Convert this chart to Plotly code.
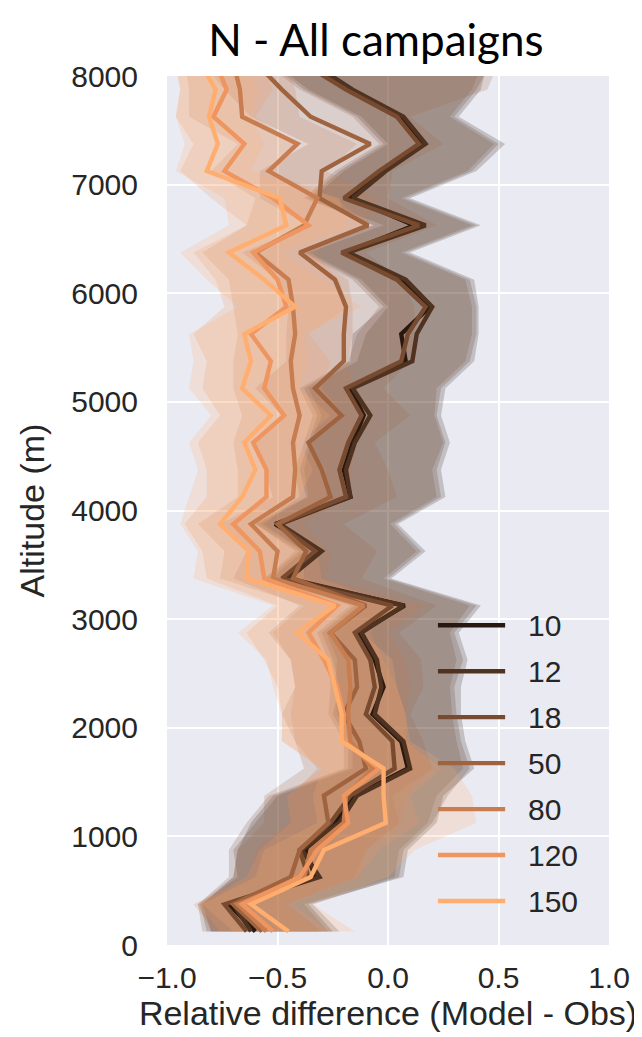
import plotly.graph_objects as go

# ---------------- data ----------------
altitudes = [125 + 250 * k for k in range(33)]  # bin centres (m)

series_names = ["10", "12", "18", "50", "80", "120", "150"]

s10 = [-0.60, -0.72, -0.33, -0.37, -0.24, -0.15, 0.09, 0.06, -0.07, -0.02, -0.06, -0.13, 0.075, -0.47, -0.31, -0.51,
       -0.17, -0.20, -0.16, -0.11, -0.17, 0.08, 0.06, 0.19, 0.06, -0.19, 0.12, -0.17, -0.02, 0.16, 0.06, -0.17, -0.37]
s10_lo = [-0.80, -0.84, -0.70, -0.68, -0.62, -0.52, -0.18, -0.18, -0.25, -0.22, -0.25, -0.30, -0.15, -0.55, -0.40, -0.60,
          -0.37, -0.40, -0.36, -0.32, -0.38, -0.17, -0.16, -0.02, -0.14, -0.38, -0.07, -0.36, -0.22, -0.02, -0.14, -0.38, -0.54]
s10_hi = [-0.25, -0.36, 0.07, 0.09, 0.22, 0.25, 0.39, 0.35, 0.33, 0.33, 0.36, 0.32, 0.42, 0.015, 0.17, 0.045,
          0.26, 0.24, 0.28, 0.24, 0.26, 0.39, 0.41, 0.41, 0.39, 0.10, 0.42, 0.10, 0.40, 0.53, 0.32, 0.42, 0.45]

s12 = [-0.62, -0.70, -0.31, -0.39, -0.22, -0.14, 0.10, 0.07, -0.06, -0.03, -0.05, -0.12, 0.07, -0.45, -0.30, -0.49,
       -0.17, -0.19, -0.15, -0.08, -0.16, 0.11, 0.13, 0.20, 0.08, -0.18, 0.17, -0.16, -0.01, 0.17, 0.07, -0.16, -0.35]
s12_lo = [-0.82, -0.85, -0.68, -0.70, -0.60, -0.50, -0.16, -0.16, -0.23, -0.24, -0.23, -0.28, -0.13, -0.53, -0.38, -0.58,
          -0.36, -0.38, -0.35, -0.30, -0.36, -0.14, -0.10, 0.00, -0.12, -0.36, -0.02, -0.34, -0.20, 0.00, -0.12, -0.36, -0.52]
s12_hi = [-0.22, -0.34, 0.05, 0.07, 0.20, 0.27, 0.37, 0.33, 0.31, 0.30, 0.34, 0.30, 0.40, 0.00, 0.15, 0.03,
          0.24, 0.22, 0.26, 0.22, 0.24, 0.37, 0.40, 0.40, 0.37, 0.08, 0.40, 0.08, 0.38, 0.50, 0.30, 0.40, 0.47]

s18 = [-0.64, -0.74, -0.36, -0.40, -0.26, -0.17, 0.03, 0.02, -0.10, -0.06, -0.08, -0.15, 0.02, -0.48, -0.33, -0.50,
       -0.19, -0.22, -0.18, -0.12, -0.19, 0.06, 0.09, 0.17, 0.04, -0.21, 0.14, -0.20, -0.04, 0.14, 0.04, -0.19, -0.39]
s18_lo = [-0.84, -0.86, -0.72, -0.72, -0.64, -0.54, -0.20, -0.20, -0.27, -0.26, -0.27, -0.32, -0.17, -0.56, -0.42, -0.60,
          -0.40, -0.42, -0.38, -0.34, -0.40, -0.18, -0.14, -0.04, -0.16, -0.40, -0.06, -0.38, -0.24, -0.04, -0.16, -0.40, -0.56]
s18_hi = [-0.27, -0.38, 0.03, 0.05, 0.18, 0.22, 0.34, 0.31, 0.29, 0.28, 0.31, 0.28, 0.37, -0.02, 0.13, 0.01,
          0.22, 0.20, 0.25, 0.21, 0.22, 0.35, 0.38, 0.38, 0.35, 0.06, 0.38, 0.06, 0.36, 0.48, 0.28, 0.38, 0.43]

s50 = [-0.57, -0.70, -0.44, -0.40, -0.27, -0.29, -0.10, -0.13, -0.20, -0.14, -0.15, -0.26, -0.10, -0.43, -0.37, -0.50,
       -0.26, -0.30, -0.36, -0.21, -0.33, -0.20, -0.20, -0.19, -0.24, -0.40, -0.09, -0.31, -0.30, -0.08, -0.35, -0.48, -0.60]
s50_lo = [-0.80, -0.86, -0.70, -0.68, -0.56, -0.56, -0.38, -0.42, -0.48, -0.42, -0.44, -0.54, -0.40, -0.70, -0.64, -0.76,
          -0.52, -0.56, -0.62, -0.48, -0.60, -0.46, -0.46, -0.45, -0.50, -0.66, -0.36, -0.58, -0.58, -0.36, -0.62, -0.74, -0.84]
s50_hi = [-0.30, -0.45, -0.15, -0.10, 0.05, 0.02, 0.20, 0.16, 0.10, 0.16, 0.15, 0.05, 0.22, -0.12, -0.05, -0.20,
          0.04, 0.00, -0.06, 0.10, -0.02, 0.10, 0.12, 0.12, 0.06, -0.10, 0.22, 0.00, 0.02, 0.25, 0.10, 0.45, 0.50]

s80 = [-0.55, -0.68, -0.38, -0.35, -0.20, -0.19, -0.07, -0.17, -0.18, -0.17, -0.18, -0.26, -0.11, -0.52, -0.50, -0.62,
       -0.43, -0.42, -0.43, -0.40, -0.43, -0.44, -0.42, -0.43, -0.45, -0.60, -0.38, -0.32, -0.54, -0.41, -0.66, -0.67, -0.70]
s80_lo = [-0.78, -0.88, -0.62, -0.60, -0.45, -0.44, -0.32, -0.42, -0.44, -0.42, -0.44, -0.52, -0.38, -0.76, -0.74, -0.86,
          -0.68, -0.68, -0.70, -0.66, -0.70, -0.70, -0.68, -0.70, -0.72, -0.84, -0.64, -0.60, -0.80, -0.68, -0.90, -0.90, -0.92]
s80_hi = [-0.32, -0.48, -0.12, -0.10, 0.06, 0.08, 0.20, 0.10, 0.08, 0.10, 0.08, 0.00, 0.16, -0.28, -0.26, -0.38,
          -0.18, -0.16, -0.16, -0.14, -0.16, -0.18, -0.16, -0.16, -0.18, -0.36, -0.10, -0.04, -0.28, -0.14, -0.40, -0.42, -0.46]

s120 = [-0.52, -0.66, -0.40, -0.32, -0.18, -0.20, -0.04, -0.20, -0.20, -0.23, -0.29, -0.36, -0.23, -0.56, -0.58, -0.70,
        -0.55, -0.55, -0.61, -0.47, -0.56, -0.53, -0.62, -0.46, -0.50, -0.61, -0.36, -0.52, -0.74, -0.65, -0.79, -0.73, -0.78]
s120_lo = [-0.76, -0.86, -0.64, -0.58, -0.44, -0.46, -0.30, -0.48, -0.48, -0.50, -0.56, -0.64, -0.50, -0.82, -0.84, -0.92,
           -0.82, -0.82, -0.86, -0.76, -0.84, -0.82, -0.88, -0.74, -0.78, -0.88, -0.64, -0.80, -0.94, -0.88, -0.96, -0.94, -0.96]
s120_hi = [-0.26, -0.44, -0.14, -0.04, 0.14, 0.10, 0.24, 0.08, 0.08, 0.04, -0.02, -0.08, 0.04, -0.30, -0.32, -0.48,
           -0.28, -0.28, -0.36, -0.20, -0.30, -0.26, -0.36, -0.18, -0.22, -0.34, -0.08, -0.24, -0.54, -0.42, -0.60, -0.52, -0.58]

s150 = [-0.45, -0.62, -0.35, -0.29, -0.01, -0.02, -0.02, -0.21, -0.21, -0.24, -0.27, -0.41, -0.24, -0.64, -0.63, -0.76,
        -0.66, -0.60, -0.65, -0.53, -0.66, -0.62, -0.65, -0.42, -0.56, -0.72, -0.46, -0.49, -0.82, -0.77, -0.81, -0.78, -0.85]
s150_lo = [-0.70, -0.84, -0.60, -0.56, -0.32, -0.34, -0.30, -0.48, -0.48, -0.52, -0.55, -0.68, -0.52, -0.88, -0.86, -0.94,
           -0.90, -0.86, -0.90, -0.80, -0.90, -0.88, -0.90, -0.68, -0.82, -0.94, -0.72, -0.74, -0.96, -0.92, -0.96, -0.94, -0.97]
s150_hi = [-0.15, -0.34, 0.00, 0.12, 0.40, 0.38, 0.30, 0.10, 0.08, 0.04, 0.02, -0.12, 0.06, -0.38, -0.38, -0.56,
           -0.40, -0.34, -0.40, -0.26, -0.40, -0.36, -0.38, -0.12, -0.30, -0.48, -0.18, -0.22, -0.62, -0.56, -0.62, -0.58, -0.66]

means = [s10, s12, s18, s50, s80, s120, s150]
lows = [s10_lo, s12_lo, s18_lo, s50_lo, s80_lo, s120_lo, s150_lo]
highs = [s10_hi, s12_hi, s18_hi, s50_hi, s80_hi, s120_hi, s150_hi]

x_ticks = [-1.0, -0.5, 0.0, 0.5, 1.0]
x_ticklabels = ["\u22121.0", "\u22120.5", "0.0", "0.5", "1.0"]
y_ticks = [0, 1000, 2000, 3000, 4000, 5000, 6000, 7000, 8000]

# ---------------- style ----------------
colors_rgb = [(40, 25, 16), (80, 50, 32), (120, 75, 48), (159, 100, 63),
              (199, 125, 79), (239, 149, 95), (255, 174, 111)]
band_alpha = 0.2
line_w = 4.4
text_color = "#262626"
tick_font = "Liberation Sans, Arial, sans-serif"

fig = go.Figure()

# bands first (below all lines)
for name, lo, hi, c in zip(series_names, lows, highs, colors_rgb):
    fig.add_trace(go.Scatter(
        x=list(lo) + list(hi)[::-1],
        y=list(altitudes) + list(altitudes)[::-1],
        fill="toself", mode="lines", line=dict(width=0),
        fillcolor=f"rgba({c[0]},{c[1]},{c[2]},{band_alpha})",
        hoverinfo="skip", showlegend=False))

# mean lines
for name, m, c in zip(series_names, means, colors_rgb):
    fig.add_trace(go.Scatter(
        x=m, y=altitudes, mode="lines", name=name,
        line=dict(color=f"rgb({c[0]},{c[1]},{c[2]})", width=line_w),
        showlegend=False))

# manual legend (matplotlib style) in paper coordinates
leg_y_top = 0.368
leg_step = 0.0529
shapes = []
annotations = []
for i, (name, c) in enumerate(zip(series_names, colors_rgb)):
    yy = leg_y_top - i * leg_step
    shapes.append(dict(type="line", xref="paper", yref="paper",
                       x0=0.613, x1=0.765, y0=yy, y1=yy,
                       line=dict(color=f"rgb({c[0]},{c[1]},{c[2]})", width=line_w)))
    annotations.append(dict(xref="paper", yref="paper", x=0.812, y=yy,
                            xanchor="left", yanchor="middle", showarrow=False,
                            text=name, font=dict(family=tick_font, size=30, color=text_color)))

fig.update_layout(
    width=642, height=1037,
    margin=dict(l=159, r=41, t=68, b=100),
    paper_bgcolor="white", plot_bgcolor="#eaeaf2",
    title=dict(text="N - All campaigns", x=0.573, xanchor="center",
               y=1 - 33 / 1037, yanchor="middle", yref="container",
               font=dict(family="Lato, Open Sans, sans-serif", size=44, color="black")),
    shapes=shapes, annotations=annotations,
    showlegend=False,
)

fig.update_xaxes(
    range=[-1.0, 1.0], tickvals=x_ticks, ticktext=x_ticklabels,
    showgrid=True, gridcolor="white", gridwidth=1.8, zeroline=False,
    showline=False, ticks="", ticklabelstandoff=12,
    tickfont=dict(family=tick_font, size=30, color=text_color),
    title=dict(text="Relative difference (Model - Obs)", standoff=0,
               font=dict(family=tick_font, size=34, color=text_color)),
)
fig.update_yaxes(
    range=[0, 8000], tickvals=y_ticks,
    showgrid=True, gridcolor="white", gridwidth=1.8, zeroline=False,
    showline=False, ticks="", ticklabelstandoff=28,
    tickfont=dict(family=tick_font, size=30, color=text_color),
    title=dict(text="Altitude (m)", standoff=16,
               font=dict(family=tick_font, size=34, color=text_color)),
)

fig.write_html("out.html")
